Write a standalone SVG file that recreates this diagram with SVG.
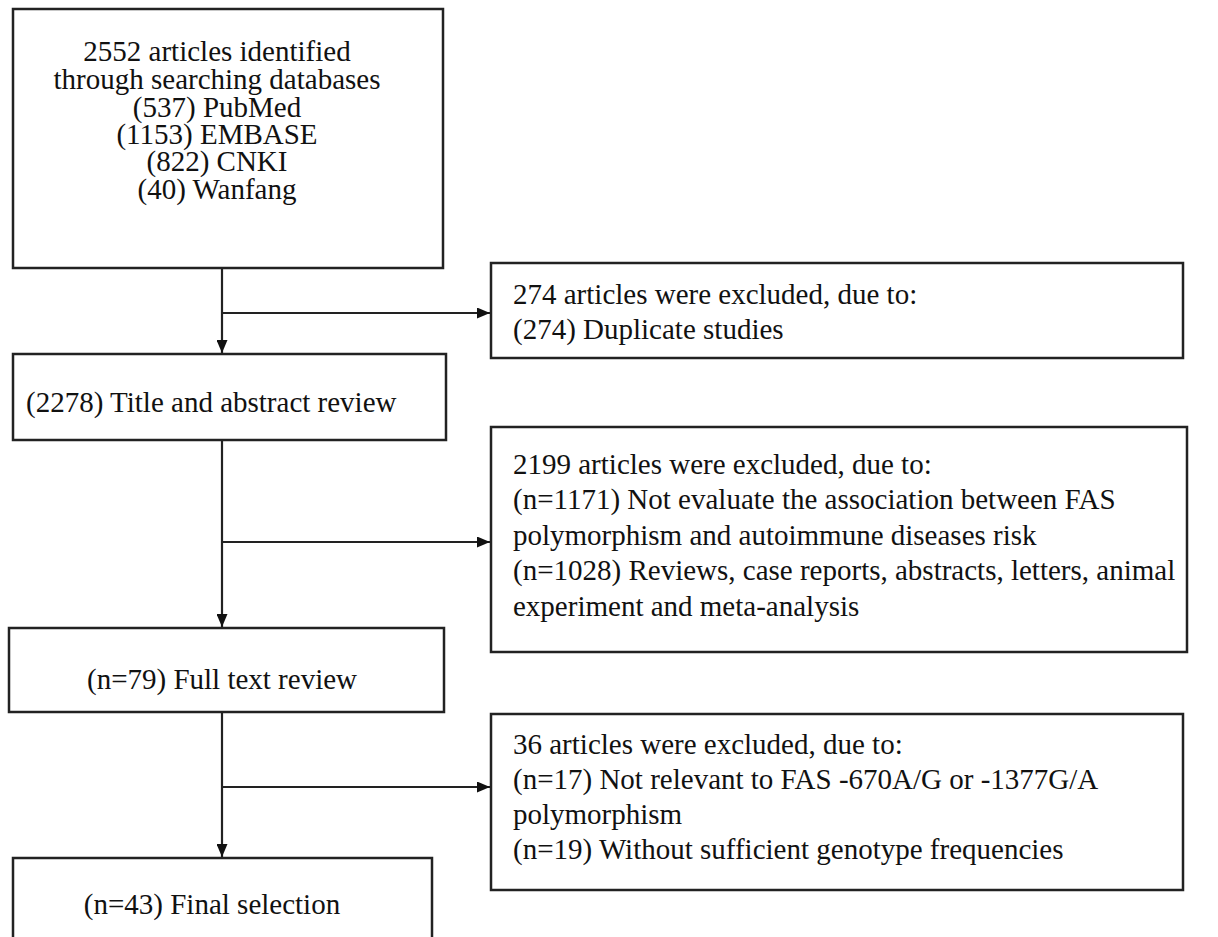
<svg xmlns="http://www.w3.org/2000/svg" width="1218" height="937" viewBox="0 0 1218 937">
<style>
.box{fill:#fff;stroke:#222;stroke-width:2.5}
.t{font-family:"Liberation Serif","Times New Roman",serif;font-size:29px;fill:#111}
.c{text-anchor:middle}
.ln{stroke:#222;stroke-width:2.2;fill:none}
</style>
<defs>
<marker id="ah" markerWidth="13" markerHeight="11" refX="13" refY="5.5" orient="auto" markerUnits="userSpaceOnUse">
<path d="M0,0 L13,5.5 L0,11 Z" fill="#111"/>
</marker>
</defs>
<rect width="1218" height="937" fill="#fff"/>
<g id="connectors">
<line class="ln" x1="222" y1="268" x2="222" y2="353" marker-end="url(#ah)"/>
<line class="ln" x1="222" y1="313" x2="490" y2="313" marker-end="url(#ah)"/>
<line class="ln" x1="222" y1="440" x2="222" y2="627" marker-end="url(#ah)"/>
<line class="ln" x1="222" y1="542" x2="490" y2="542" marker-end="url(#ah)"/>
<line class="ln" x1="222" y1="712" x2="222" y2="857" marker-end="url(#ah)"/>
<line class="ln" x1="222" y1="787" x2="490" y2="787" marker-end="url(#ah)"/>
</g>
<g id="n1">
<rect class="box" x="13" y="9" width="430" height="259"/>
<text class="t c" x="217" y="61">2552 articles identified</text>
<text class="t c" x="217" y="89">through searching databases</text>
<text class="t c" x="217" y="117">(537) PubMed</text>
<text class="t c" x="217" y="144">(1153) EMBASE</text>
<text class="t c" x="217" y="171">(822) CNKI</text>
<text class="t c" x="217" y="199">(40) Wanfang</text>
</g>
<g id="e1">
<rect class="box" x="491" y="263" width="692" height="95"/>
<text class="t" x="513" y="304">274 articles were excluded, due to:</text>
<text class="t" x="513" y="339">(274) Duplicate studies</text>
</g>
<g id="n2">
<rect class="box" x="13" y="354" width="433" height="86"/>
<text class="t" x="26" y="412">(2278) Title and abstract review</text>
</g>
<g id="e2">
<rect class="box" x="491" y="427" width="696" height="225"/>
<text class="t" x="513" y="474">2199 articles were excluded, due to:</text>
<text class="t" x="513" y="509">(n=1171) Not evaluate the association between FAS</text>
<text class="t" x="513" y="545">polymorphism and autoimmune diseases risk</text>
<text class="t" x="513" y="580">(n=1028) Reviews, case reports, abstracts, letters, animal</text>
<text class="t" x="513" y="616">experiment and meta-analysis</text>
</g>
<g id="n3">
<rect class="box" x="9" y="628" width="435" height="84"/>
<text class="t c" x="222" y="689">(n=79) Full text review</text>
</g>
<g id="e3">
<rect class="box" x="491" y="714" width="692" height="176"/>
<text class="t" x="513" y="754">36 articles were excluded, due to:</text>
<text class="t" x="513" y="789">(n=17) Not relevant to FAS -670A/G or -1377G/A</text>
<text class="t" x="513" y="824">polymorphism</text>
<text class="t" x="513" y="859">(n=19) Without sufficient genotype frequencies</text>
</g>
<g id="n4">
<rect class="box" x="13" y="858" width="419" height="100"/>
<text class="t c" x="212" y="914">(n=43) Final selection</text>
</g>
</svg>
